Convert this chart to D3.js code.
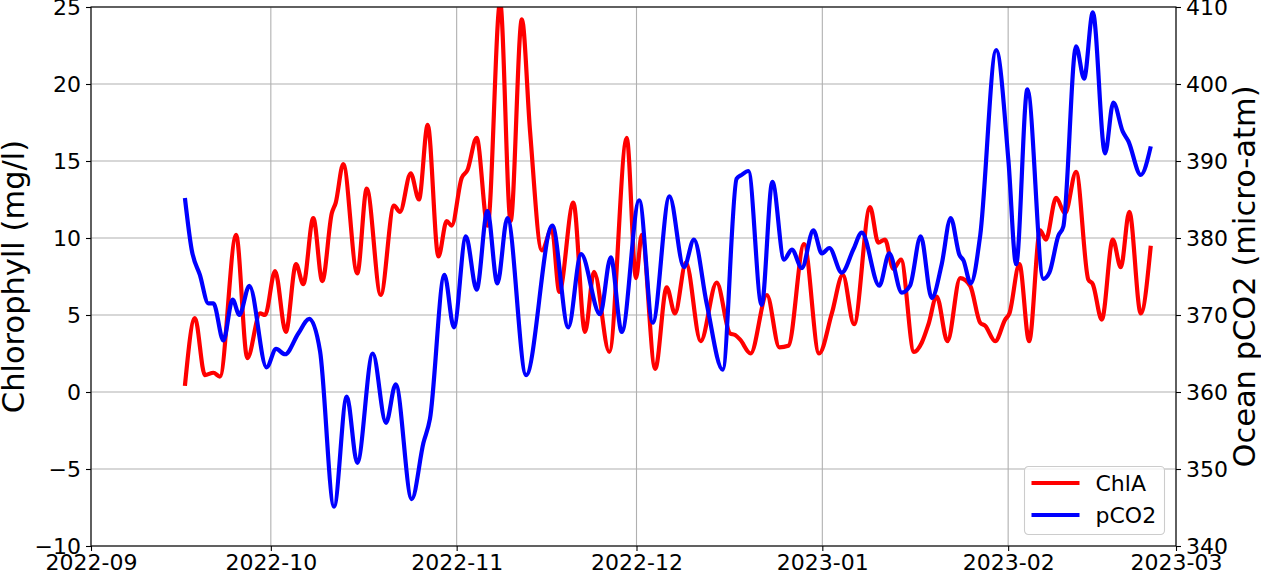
<!DOCTYPE html>
<html>
<head>
<meta charset="utf-8">
<script src="https://cdn.jsdelivr.net/npm/d3@7"></script>
<style>
  body { margin: 0; background: #fff; }
  svg text { font-family: "DejaVu Sans", sans-serif; fill: #000; }
</style>
</head>
<body>
<div id="vis"></div>
<script>
// ChlA series (left axis, mg/l)
var chlaDates = [
  "2022-09-16T16", "2022-09-18T08", "2022-09-20T00", "2022-09-21T10", "2022-09-22T12",
  "2022-09-25T05", "2022-09-27T02", "2022-09-29T05", "2022-09-30T01", "2022-10-01T17",
  "2022-10-03T12", "2022-10-05T05", "2022-10-06T10", "2022-10-08T02", "2022-10-09T14",
  "2022-10-11T04", "2022-10-11T20", "2022-10-13T02", "2022-10-15T10", "2022-10-17T00",
  "2022-10-19T08", "2022-10-21T13", "2022-10-22T13", "2022-10-24T08", "2022-10-25T17",
  "2022-10-27T04", "2022-10-28T23", "2022-10-30T08", "2022-10-31T04", "2022-11-01T20",
  "2022-11-02T19", "2022-11-04T08", "2022-11-06T04", "2022-11-08T06", "2022-11-10T00",
  "2022-11-11T21", "2022-11-13T06", "2022-11-15T05", "2022-11-16T21", "2022-11-18T03",
  "2022-11-20T11", "2022-11-22T10", "2022-11-23T22", "2022-11-26T11", "2022-11-29T09",
  "2022-11-30T22", "2022-12-01T21", "2022-12-04T03", "2022-12-06T01", "2022-12-07T10",
  "2022-12-09T06", "2022-12-11T17", "2022-12-14T09", "2022-12-16T15", "2022-12-17T11",
  "2022-12-18T07", "2022-12-20T01", "2022-12-22T18", "2022-12-24T20", "2022-12-26T08",
  "2022-12-28T23", "2022-12-31T11", "2023-01-02T14", "2023-01-04T10", "2023-01-06T07",
  "2023-01-08T23", "2023-01-10T08", "2023-01-11T11", "2023-01-12T20", "2023-01-14T03",
  "2023-01-16T07", "2023-01-17T14", "2023-01-18T17", "2023-01-20T02", "2023-01-21T21",
  "2023-01-24T00", "2023-01-25T16", "2023-01-27T08", "2023-01-28T04", "2023-01-29T20",
  "2023-01-31T12", "2023-02-01T05", "2023-02-02T21", "2023-02-04T12", "2023-02-06T08",
  "2023-02-07T07", "2023-02-09T00", "2023-02-10T12", "2023-02-12T08", "2023-02-14T09",
  "2023-02-15T03", "2023-02-16T15", "2023-02-18T11", "2023-02-19T19", "2023-02-21T05",
  "2023-02-23T03", "2023-02-24T19"
];
var chlaValues = [
  0.4, 4.8, 1.1, 1.25, 1.0,
  10.2, 2.2, 5.1, 5.0, 7.85,
  3.9, 8.3, 7.0, 11.3, 7.2,
  11.6, 12.3, 14.8, 7.7, 13.2,
  6.3, 12.1, 11.7, 14.2, 12.5,
  17.35, 8.8, 11.1, 10.8, 13.9,
  14.4, 16.5, 10.8, 25.3, 11.1,
  24.2, 16.9, 9.2, 10.6, 6.5,
  12.3, 3.9, 7.8, 2.6, 16.5,
  7.4, 10.2, 1.5, 6.8, 5.1,
  8.4, 3.3, 7.1, 3.8, 3.7,
  3.4, 2.5, 6.3, 2.9, 3.0,
  9.6, 2.5, 5.1, 7.6, 4.4,
  12.0, 9.7, 9.9, 8.0, 8.6,
  2.6, 3.2, 4.4, 6.2, 3.3,
  7.4, 6.9, 4.5, 4.3, 3.3,
  4.7, 5.1, 8.3, 3.3, 10.5,
  9.9, 12.6, 11.6, 14.3, 7.3,
  7.0, 4.7, 9.9, 8.1, 11.7,
  5.1, 9.5
];

// pCO2 series (right axis, micro-atm)
var pco2Dates = [
  "2022-09-16T16", "2022-09-17T19", "2022-09-19T04", "2022-09-20T14", "2022-09-21T10",
  "2022-09-23T02", "2022-09-24T15", "2022-09-25T18", "2022-09-27T10", "2022-09-30T07",
  "2022-10-01T21", "2022-10-03T09", "2022-10-05T14", "2022-10-07T10", "2022-10-09T05",
  "2022-10-11T13", "2022-10-13T16", "2022-10-15T10", "2022-10-18T00", "2022-10-20T05",
  "2022-10-21T20", "2022-10-24T12", "2022-10-26T11", "2022-10-27T13", "2022-10-29T23",
  "2022-10-31T13", "2022-11-02T13", "2022-11-04T08", "2022-11-06T03", "2022-11-07T19",
  "2022-11-09T11", "2022-11-12T14", "2022-11-16T23", "2022-11-19T15", "2022-11-21T18",
  "2022-11-24T22", "2022-11-26T17", "2022-11-28T13", "2022-12-01T11", "2022-12-03T17",
  "2022-12-06T12", "2022-12-08T22", "2022-12-10T14", "2022-12-12T17", "2022-12-15T09",
  "2022-12-17T17", "2022-12-18T13", "2022-12-19T16", "2022-12-21T21", "2022-12-23T16",
  "2022-12-25T15", "2022-12-26T22", "2022-12-28T14", "2022-12-30T12", "2022-12-31T22",
  "2023-01-02T04", "2023-01-04T06", "2023-01-06T04", "2023-01-07T14", "2023-01-10T12",
  "2023-01-12T04", "2023-01-14T06", "2023-01-15T15", "2023-01-17T10", "2023-01-19T06",
  "2023-01-20T22", "2023-01-22T10", "2023-01-23T21", "2023-01-24T13", "2023-01-25T18",
  "2023-01-27T08", "2023-01-30T00", "2023-02-01T01", "2023-02-02T08", "2023-02-04T05",
  "2023-02-06T21", "2023-02-07T21", "2023-02-09T09", "2023-02-10T05", "2023-02-12T08",
  "2023-02-13T16", "2023-02-15T03", "2023-02-17T04", "2023-02-18T13", "2023-02-20T03",
  "2023-02-21T01", "2023-02-23T03", "2023-02-24T19"
];
var pco2Values = [
  385.2, 378.5, 375.2, 371.5, 371.5,
  366.7, 372.0, 370.0, 373.8, 363.2,
  365.6, 364.9, 367.6, 369.5, 365.3,
  345.1, 359.4, 350.8, 365.0, 356.0,
  361.0, 346.1, 353.4, 356.5, 375.2,
  368.4, 380.2, 373.3, 383.5, 374.1,
  382.6, 362.2, 381.6, 368.4, 377.9,
  370.1, 377.5, 367.8, 384.9, 369.0,
  385.4, 376.2, 379.8, 371.5, 362.9,
  387.7, 388.2, 388.7, 371.3, 387.3,
  377.2, 378.5, 376.1, 381.0, 378.0,
  378.7, 375.5, 378.5, 380.7, 373.8,
  378.0, 372.9, 373.8, 380.2, 372.2,
  376.6, 382.6, 377.8, 377.1, 374.1,
  380.3, 404.4, 390.1, 376.6, 399.3,
  374.7, 375.5, 380.3, 381.5, 404.9,
  400.7, 409.3, 391.0, 397.6, 393.8,
  392.6, 388.2, 391.9
];

var xTickDates = ["2022-09-01", "2022-10-01", "2022-11-01", "2022-12-01", "2023-01-01", "2023-02-01", "2023-03-01"];
var leftTicks = [-10, -5, 0, 5, 10, 15, 20, 25];
var rightTicks = [340, 350, 360, 370, 380, 390, 400, 410];

var width = 1261,
    height = 573;
var margin = {left: 91, right: 85, top: 7, bottom: 27};
var plotW = width - margin.left - margin.right,
    plotH = height - margin.top - margin.bottom;

var parseT = d3.timeParse("%Y-%m-%dT%H");
var parseD = d3.timeParse("%Y-%m-%d");

var chla = chlaDates.map(function(d, i) { return {date: parseT(d), value: chlaValues[i]}; });
var pco2 = pco2Dates.map(function(d, i) { return {date: parseT(d), value: pco2Values[i]}; });

var x = d3.scaleTime()
    .domain([parseD("2022-09-01"), parseD("2023-03-01")])
    .range([0, plotW]);
var yL = d3.scaleLinear().domain([-10, 25]).range([plotH, 0]);
var yR = d3.scaleLinear().domain([340, 410]).range([plotH, 0]);

var svg = d3.select("#vis").append("svg")
    .attr("width", width)
    .attr("height", height);

svg.append("defs").append("clipPath")
    .attr("id", "plotclip")
  .append("rect")
    .attr("width", plotW)
    .attr("height", plotH);

var g = svg.append("g")
    .attr("transform", "translate(" + margin.left + "," + margin.top + ")");

// grid
g.append("g")
  .selectAll("line")
  .data(xTickDates.map(parseD))
  .enter().append("line")
    .attr("x1", function(d) { return x(d); })
    .attr("x2", function(d) { return x(d); })
    .attr("y1", 0)
    .attr("y2", plotH)
    .attr("stroke", "#b0b0b0")
    .attr("stroke-width", 1.1);

g.append("g")
  .selectAll("line")
  .data(leftTicks)
  .enter().append("line")
    .attr("x1", 0)
    .attr("x2", plotW)
    .attr("y1", function(d) { return yL(d); })
    .attr("y2", function(d) { return yL(d); })
    .attr("stroke", "#b0b0b0")
    .attr("stroke-width", 1.1);

// lines
var lineL = d3.line()
    .x(function(d) { return x(d.date); })
    .y(function(d) { return yL(d.value); })
    .curve(d3.curveMonotoneX);
var lineR = d3.line()
    .x(function(d) { return x(d.date); })
    .y(function(d) { return yR(d.value); })
    .curve(d3.curveMonotoneX);

var lines = g.append("g").attr("clip-path", "url(#plotclip)");
lines.append("path")
    .datum(chla)
    .attr("d", lineL)
    .attr("fill", "none")
    .attr("stroke", "#ff0000")
    .attr("stroke-width", 4.2)
    .attr("stroke-linejoin", "round");
lines.append("path")
    .datum(pco2)
    .attr("d", lineR)
    .attr("fill", "none")
    .attr("stroke", "#0000ff")
    .attr("stroke-width", 4.2)
    .attr("stroke-linejoin", "round");

// frame
g.append("rect")
    .attr("width", plotW)
    .attr("height", plotH)
    .attr("fill", "none")
    .attr("stroke", "#000")
    .attr("stroke-width", 1.1);

// axes
function styleAxis(sel) {
  sel.select(".domain").remove();
  sel.selectAll(".tick line").attr("stroke", "#000").attr("stroke-width", 1.1);
  sel.selectAll(".tick text").style("font-size", "22px");
}

var xAxis = g.append("g")
    .attr("transform", "translate(0," + plotH + ")")
    .call(d3.axisBottom(x)
      .tickValues(xTickDates.map(parseD))
      .tickFormat(d3.timeFormat("%Y-%m"))
      .tickSize(5).tickPadding(3));
styleAxis(xAxis);

var leftAxis = g.append("g")
    .call(d3.axisLeft(yL).tickValues(leftTicks).tickSize(5).tickPadding(5));
styleAxis(leftAxis);

var rightAxis = g.append("g")
    .attr("transform", "translate(" + plotW + ",0)")
    .call(d3.axisRight(yR).tickValues(rightTicks).tickSize(5).tickPadding(5));
styleAxis(rightAxis);

// axis titles
svg.append("text")
    .attr("transform", "translate(24," + (margin.top + plotH / 2) + ") rotate(-90)")
    .attr("text-anchor", "middle")
    .style("font-size", "30.5px")
    .text("Chlorophyll (mg/l)");

svg.append("text")
    .attr("transform", "translate(1255," + (margin.top + plotH / 2) + ") rotate(-90)")
    .attr("text-anchor", "middle")
    .style("font-size", "30.5px")
    .text("Ocean pCO2 (micro-atm)");

// legend
var legendItems = [
  {name: "ChlA", color: "#ff0000"},
  {name: "pCO2", color: "#0000ff"}
];
var legend = svg.append("g")
    .attr("transform", "translate(1024.5,466.5)");
legend.append("rect")
    .attr("width", 140)
    .attr("height", 68)
    .attr("rx", 4)
    .attr("fill", "#fff")
    .attr("fill-opacity", 0.8)
    .attr("stroke", "#cccccc")
    .attr("stroke-width", 1.1);
var li = legend.selectAll(".item")
    .data(legendItems)
    .enter().append("g")
    .attr("transform", function(d, i) { return "translate(0," + (16.5 + i * 32) + ")"; });
li.append("line")
    .attr("x1", 7)
    .attr("x2", 55)
    .attr("stroke", function(d) { return d.color; })
    .attr("stroke-width", 4.2);
li.append("text")
    .attr("x", 71)
    .attr("y", 8)
    .style("font-size", "22px")
    .text(function(d) { return d.name; });
</script>
</body>
</html>
